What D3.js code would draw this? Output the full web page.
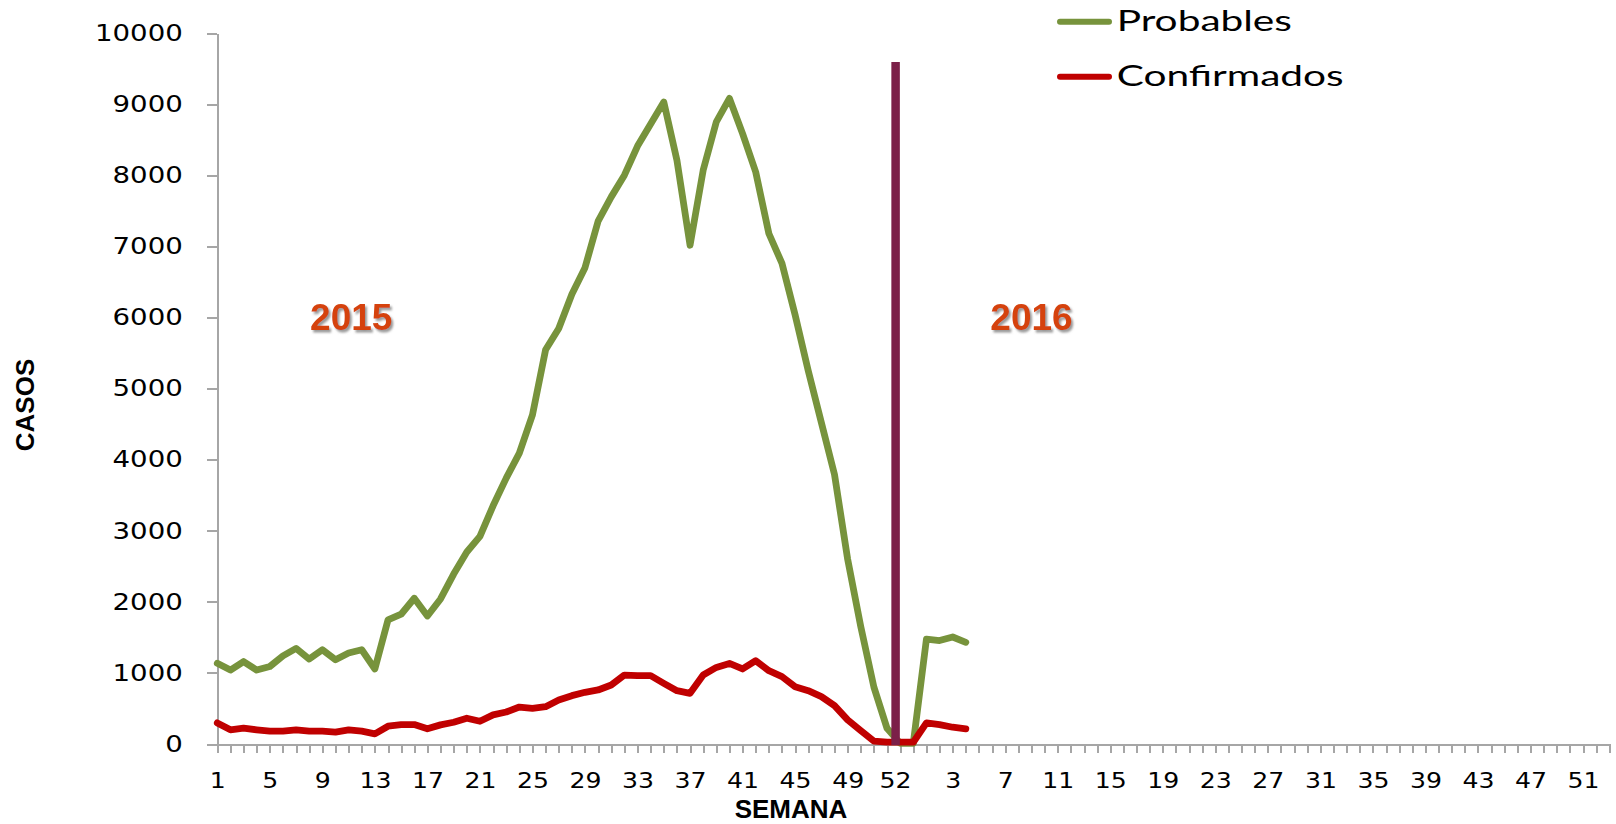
<!DOCTYPE html>
<html>
<head>
	<meta charset="utf-8">

	<!-- D3.js -->
	<script src="https://cdnjs.cloudflare.com/ajax/libs/d3/7.8.5/d3.min.js" charset="utf-8"></script>

	<style>
		body {
		  margin: 0;
		  background: #ffffff;
		}

		.axis path, .axis line {
			stroke: #a6a6a6;
			stroke-width: 2px;
			shape-rendering: crispEdges;
		}

		.axis text {
			font-family: 'DejaVu Sans', sans-serif;
			fill: #000000;
		}

		.axisTitle {
			font-family: 'Liberation Sans', Arial, sans-serif;
			font-weight: bold;
			font-size: 26px;
			fill: #000000;
		}

		.yearLabel {
			font-family: 'Liberation Sans', Arial, sans-serif;
			font-weight: bold;
			font-size: 37px;
			fill: #d5420f;
			text-anchor: middle;
		}

		.legendText {
			font-family: 'Lato', sans-serif;
			font-size: 29px;
			fill: #000000;
		}
	</style>

</head>
<body>

	<div id="chart"></div>

<script>

///////////////////////////////////////////////////
/////////////////// The data //////////////////////
///////////////////////////////////////////////////

//Epidemiological weeks, 2015 has 53, then a blank gap category, then 2016
var semanas2015 = d3.range(1, 54).map(String);
var semanas2016 = d3.range(1, 54).map(String);
var semanas = semanas2015.concat([""]).concat(semanas2016);

//Cases per week (only filled up to week 4 of 2016)
var probables = [
	1135, 1040, 1160, 1040, 1090, 1240, 1345, 1195, 1325, 1185,
	1280, 1325, 1055, 1745, 1825, 2050, 1800, 2040, 2390, 2700,
	2920, 3350, 3740, 4090, 4630, 5545, 5845, 6325, 6700, 7355,
	7695, 8000, 8410, 8720, 9030, 8210, 7015, 8070, 8750, 9080,
	8585, 8045, 7180, 6760, 6035, 5250, 4520, 3790, 2600, 1650,
	800, 220, 10, 10, 1475, 1455, 1505, 1430
];

var confirmados = [
	297, 199, 222, 199, 180, 180, 199, 180, 180, 166,
	199, 180, 143, 250, 273, 273, 213, 269, 306, 362,
	320, 410, 450, 520, 500, 525, 619, 680, 727, 760,
	830, 970, 961, 961, 853, 750, 713, 970, 1077, 1133,
	1055, 1171, 1031, 947, 806, 750, 666, 540, 339, 189,
	40, 25, 25, 25, 297, 273, 236, 213
];

var series = [
	{name: "Probables", values: probables, color: "#77933c"},
	{name: "Confirmados", values: confirmados, color: "#c00000"}
];

//Y axis ticks
var yTicks = d3.range(0, 10001, 1000);

//Label every 4th week; the last 2015 week is marked at the divider instead
var labelStep = 4;
var lastWeek2015 = 52;

//Year annotations (week index and value used to place them)
var yearNotes = [
	{text: "2015", week: 10.2, value: 6000},
	{text: "2016", week: 62, value: 6000}
];

///////////////////////////////////////////////////
//////////////// Set the Scales ///////////////////
///////////////////////////////////////////////////

var width = 1616,
    height = 824;

var margin = {top: 33, right: 6.7, bottom: 80, left: 217.3};

var x = d3.scalePoint()
	.domain(d3.range(semanas.length))
	.range([margin.left, width - margin.right]);

var y = d3.scaleLinear()
	.domain([0, 10000])
	.range([height - margin.bottom, margin.top]);

//Stretch texts horizontally, the reference is a bit wider than the fonts
function widen(sel, k) {
	sel.each(function() {
		var w = this.getComputedTextLength();
		d3.select(this)
			.attr("textLength", w * k)
			.attr("lengthAdjust", "spacingAndGlyphs");
	});
}

///////////////////////////////////////////////////
////////////// Initialize the SVG /////////////////
///////////////////////////////////////////////////

var svg = d3.select("#chart")
	.append("svg")
	.attr("width", width)
	.attr("height", height);

svg.append("rect")
	.attr("width", width)
	.attr("height", height)
	.style("fill", "#ffffff");

//Soft shadow for the year labels
svg.append("defs")
	.append("filter")
	.attr("id", "shadow")
	.attr("x", "-20%").attr("y", "-20%")
	.attr("width", "140%").attr("height", "150%")
	.append("feDropShadow")
	.attr("dx", 2)
	.attr("dy", 2.5)
	.attr("stdDeviation", 1.2)
	.attr("flood-color", "#7f7f7f")
	.attr("flood-opacity", 0.8);

///////////////////////////////////////////////////
/////////////////// The axes //////////////////////
///////////////////////////////////////////////////

var xAxis = d3.axisBottom(x)
	.tickSize(9)
	.tickSizeOuter(0)
	.tickPadding(20)
	.tickFormat(function(i) {
		return (i % labelStep === 0 && i !== lastWeek2015) ? semanas[i] : "";
	});

var gx = svg.append("g")
	.attr("class", "axis x")
	.attr("transform", "translate(0," + y(0) + ")")
	.call(xAxis);

gx.selectAll("text").style("font-size", "21.5px");
widen(gx.selectAll("text").filter(function(d) { return this.textContent !== ""; }), 1.17);

var yAxis = d3.axisLeft(y)
	.tickValues(yTicks)
	.tickFormat(d3.format("d"))
	.tickSize(10)
	.tickSizeOuter(0)
	.tickPadding(24.5);

var gy = svg.append("g")
	.attr("class", "axis y")
	.attr("transform", "translate(" + margin.left + ",0)")
	.call(yAxis);

gy.selectAll("text").style("font-size", "23px");
widen(gy.selectAll("text"), 1.2);

//Axis titles
svg.append("text")
	.attr("class", "axisTitle")
	.attr("x", 791)
	.attr("y", 818)
	.style("text-anchor", "middle")
	.text("SEMANA");

svg.append("text")
	.attr("class", "axisTitle")
	.attr("transform", "translate(34,405) rotate(-90)")
	.style("text-anchor", "middle")
	.text("CASOS");

///////////////////////////////////////////////////
/////////////////// The lines /////////////////////
///////////////////////////////////////////////////

var line = d3.line()
	.x(function(d, i) { return x(i); })
	.y(function(d) { return y(d); });

svg.selectAll(".serie")
	.data(series)
	.enter().append("path")
	.attr("class", "serie")
	.attr("d", function(d) { return line(d.values); })
	.style("fill", "none")
	.style("stroke", function(d) { return d.color; })
	.style("stroke-width", 6.8)
	.style("stroke-linejoin", "round")
	.style("stroke-linecap", "round");

///////////////////////////////////////////////////
///////////// Divider between years ///////////////
///////////////////////////////////////////////////

var divX = (x(lastWeek2015 - 1) + x(lastWeek2015)) / 2 + 2;

svg.append("line")
	.attr("x1", divX).attr("x2", divX)
	.attr("y1", 62).attr("y2", y(0) + 1)
	.style("stroke", "#7b1f48")
	.style("stroke-width", 8.5);

var divLabel = svg.append("text")
	.attr("class", "divLabel")
	.attr("x", divX)
	.attr("y", 788.3)
	.style("font-family", "'DejaVu Sans', sans-serif")
	.style("font-size", "21.5px")
	.style("text-anchor", "middle")
	.text(semanas[lastWeek2015 - 1]);
widen(divLabel, 1.17);

//Year labels
svg.selectAll(".yearLabel")
	.data(yearNotes)
	.enter().append("text")
	.attr("class", "yearLabel")
	.attr("x", function(d) { return margin.left + d.week * x.step(); })
	.attr("y", function(d) { return y(d.value) + 12.5; })
	.attr("filter", "url(#shadow)")
	.text(function(d) { return d.text; });

///////////////////////////////////////////////////
/////////////////// The legend ////////////////////
///////////////////////////////////////////////////

var legend = svg.selectAll(".legend")
	.data(series)
	.enter().append("g")
	.attr("class", "legend")
	.attr("transform", function(d, i) { return "translate(1060," + (21.7 + i * 55) + ")"; });

legend.append("line")
	.attr("x1", 0).attr("x2", 49)
	.attr("y1", 0).attr("y2", 0)
	.style("stroke", function(d) { return d.color; })
	.style("stroke-width", 6)
	.style("stroke-linecap", "round");

legend.append("text")
	.attr("class", "legendText")
	.attr("x", 56.7)
	.attr("y", 9.2)
	.text(function(d) { return d.name; });

widen(legend.selectAll("text"), 1.4);

</script>

</body>
</html>
